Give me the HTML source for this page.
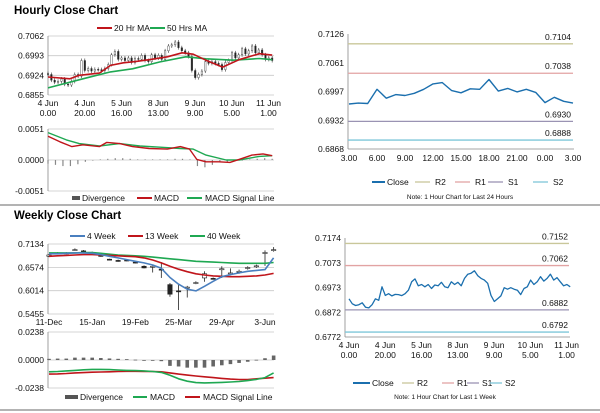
<!DOCTYPE html>
<html><head><meta charset="utf-8"><style>
html,body{margin:0;padding:0;background:#fff;}
svg{display:block;font-family:"Liberation Sans",sans-serif;}
</style></head><body>
<svg id="s" width="600" height="413" viewBox="0 0 600 413" xmlns="http://www.w3.org/2000/svg">
<text x="14" y="14" font-size="11.5" font-weight="bold">Hourly Close Chart</text>
<text x="14" y="219" font-size="11.5" font-weight="bold">Weekly Close Chart</text>
<line x1="0" y1="205" x2="600" y2="205" stroke="#9a9a9a" stroke-width="1.5"/>
<line x1="0" y1="410" x2="600" y2="410" stroke="#9a9a9a" stroke-width="1.5"/>
</svg>
<script>
// ---------- data ----------
const hourTickLabels1 = ["4 Jun","4 Jun","5 Jun","8 Jun","9 Jun","10 Jun","11 Jun"];
const hourTickLabels2 = ["0.00","20.00","16.00","13.00","9.00","5.00","1.00"];
const hourTickHours = [0,20,40,60,80,100,120];
const weekClose = [0.6927,0.6907,0.6900,0.6903,0.6911,0.6893,0.6890,0.6903,0.6927,0.6921,0.6976,0.6941,0.6948,0.6939,0.6945,0.6944,0.6940,0.6948,0.6962,0.6996,0.7008,0.6980,0.6985,0.6976,0.6985,0.6969,0.6983,0.6980,0.6994,0.6976,0.6972,0.6996,0.6985,0.6994,0.6980,0.7010,0.7027,0.7031,0.7041,0.7021,0.7010,0.7003,0.6990,0.6941,0.6916,0.6927,0.6939,0.6972,0.6966,0.6972,0.6966,0.6962,0.6944,0.6969,0.6976,0.7003,0.6985,0.6996,0.7017,0.6999,0.7010,0.7027,0.7003,0.7013,0.6996,0.6980,0.6985,0.6976];
const ma20Hours = [0,12,17,28,34,41,48,55,65,73,79,86,95,104,115,122];
const ma20Vals = [0.6918,0.6912,0.6924,0.6932,0.6959,0.6968,0.6973,0.6979,0.6989,0.7003,0.6998,0.6977,0.6953,0.6979,0.7000,0.6995];
const ma50Hours = [0,19,34,46,61,75,86,101,115,122];
const ma50Vals = [0.6880,0.6912,0.6936,0.6947,0.6971,0.6989,0.6982,0.6977,0.6983,0.6979];
const hMacdHours = [0,6.5,13,19,28,32,39,46,55,65,72,77,81,86,93,99,104,111,117,122];
const hMacdVals = [0.0039,0.0030,0.0022,0.0025,0.0022,0.0029,0.0027,0.0022,0.0019,0.0018,0.0022,0.0018,0.0001,-0.0003,-0.0003,-0.0004,0.0001,0.0008,0.0010,0.0007];
const hSigHours = [0,10,17,28,39,50,61,72,79,86,97,104,115,122];
const hSigVals = [0.0045,0.0033,0.0027,0.0023,0.0027,0.0023,0.0021,0.0019,0.0018,0.0008,0.0000,0.0000,0.0006,0.0007];
const hDivVals = [-0.0006,-0.0008,-0.0010,-0.0010,-0.0007,-0.0003,-0.0001,0.0001,0.0002,0.0003,0.0003,0.0002,0.0001,0.0001,0.0001,0.0001,0.0001,0.0002,0.0002,0.0001,-0.0010,-0.0012,-0.0008,-0.0004,-0.0003,-0.0002,-0.0001,0.0001,0.0002,0.0003,0.0002];
const r24Labels = ["3.00","6.00","9.00","12.00","15.00","18.00","21.00","0.00","3.00"];
const r24Close = [0.6969,0.6971,0.6970,0.7002,0.6982,0.6990,0.6988,0.6993,0.7002,0.7014,0.7017,0.6999,0.6994,0.7003,0.7002,0.7024,0.6998,0.7004,0.6996,0.7002,0.6995,0.6972,0.6984,0.6975,0.6971];
const r24Levels = [0.7104,0.7038,0.6930,0.6888];
const weekLevels = [0.7152,0.7062,0.6882,0.6792];
const levelNames = ["R2","R1","S1","S2"];
const wkLabels = ["11-Dec","15-Jan","19-Feb","25-Mar","29-Apr","3-Jun"];
const wkOpen = [0.684,0.691,0.691,0.699,0.697,0.693,0.686,0.677,0.674,0.675,0.670,0.660,0.658,0.653,0.616,0.601,0.608,0.619,0.632,0.631,0.652,0.643,0.647,0.655,0.660,0.692,0.698];
const wkClose = [0.687,0.692,0.692,0.700,0.696,0.692,0.685,0.676,0.673,0.674,0.669,0.656,0.660,0.652,0.593,0.600,0.610,0.621,0.642,0.630,0.654,0.644,0.648,0.657,0.661,0.693,0.700];
const wkHigh = [0.689,0.694,0.694,0.703,0.699,0.695,0.688,0.678,0.676,0.676,0.672,0.662,0.662,0.670,0.620,0.618,0.613,0.624,0.648,0.633,0.660,0.655,0.652,0.660,0.664,0.698,0.706];
const wkLow = [0.682,0.689,0.689,0.697,0.694,0.690,0.683,0.674,0.671,0.672,0.667,0.655,0.645,0.632,0.587,0.555,0.585,0.617,0.623,0.628,0.632,0.638,0.642,0.652,0.656,0.661,0.695];
const wk4 = [0.690,0.690,0.691,0.692,0.692,0.691,0.688,0.684,0.680,0.676,0.672,0.668,0.663,0.655,0.633,0.617,0.605,0.601,0.612,0.624,0.635,0.640,0.644,0.648,0.650,0.652,0.680];
const wk13 = [0.684,0.685,0.686,0.687,0.688,0.688,0.687,0.686,0.685,0.684,0.683,0.680,0.675,0.668,0.660,0.653,0.647,0.642,0.639,0.637,0.636,0.635,0.635,0.636,0.637,0.639,0.643];
const wk40 = [0.692,0.692,0.692,0.692,0.693,0.693,0.691,0.689,0.687,0.686,0.685,0.684,0.682,0.680,0.678,0.676,0.674,0.672,0.671,0.670,0.669,0.668,0.667,0.667,0.667,0.667,0.669];
const wkDiv = [0.001,0.0012,0.0012,0.002,0.002,0.002,0.0017,0.0013,0.001,0.0007,0.0003,0,-0.0003,-0.001,-0.005,-0.0055,-0.0065,-0.0065,-0.0065,-0.0055,-0.0045,-0.0035,-0.0025,-0.0015,0.0002,0.0015,0.0038];
const wkMacd = [-0.010,-0.0098,-0.0093,-0.0088,-0.0083,-0.0080,-0.0080,-0.0082,-0.0085,-0.0088,-0.0090,-0.0093,-0.0098,-0.0105,-0.0130,-0.0160,-0.0180,-0.0192,-0.0195,-0.0193,-0.0190,-0.0187,-0.0183,-0.0175,-0.0165,-0.0150,-0.0110];
const wkSig = [-0.0120,-0.0118,-0.0115,-0.0110,-0.0107,-0.0104,-0.0102,-0.0100,-0.0098,-0.0096,-0.0096,-0.0097,-0.0098,-0.0100,-0.0110,-0.0120,-0.0128,-0.0136,-0.0143,-0.0150,-0.0156,-0.0162,-0.0166,-0.0166,-0.0160,-0.0155,-0.0150];

// ---------- helpers ----------
const S = document.getElementById('s');
const NS = 'http://www.w3.org/2000/svg';
function mk(tag, name, attrs, txt){
  const el = document.createElementNS(NS, tag);
  for (const k in attrs) el.setAttribute(k, attrs[k]);
  
  
  if (txt !== undefined) el.textContent = txt;
  S.appendChild(el);
  return el;
}
function lin(d0,d1,r0,r1){ return v => r0 + (v-d0)/(d1-d0)*(r1-r0); }
function poly(name, xs, ys, color, w){
  const p = xs.map((x,i)=>x.toFixed(1)+','+ys[i].toFixed(1)).join(' ');
  return mk('polyline', name, {points:p, fill:'none', stroke:color, 'stroke-width':w||1.6, 'stroke-linejoin':'round'});
}
function txt(name,x,y,s,anchor,size){ return mk('text',name,{x:x,y:y,'font-size':size||8.5,'text-anchor':anchor||'start',fill:'#111'},s); }
function legLine(name,x1,x2,y,color,w){ mk('line',name,{x1:x1,x2:x2,y1:y,y2:y,stroke:color,'stroke-width':w||2}); }
const RED='#c0151b', GRN='#1fa852', BLUE='#4a7fbf', CLOSE='#1b6fae', GRAY='#bbb';
const LVC=['#c9c79a','#e2a3a3','#9a93b3','#7fc7d9'];

// ---------- hourly candle chart ----------
(function(){
  const hx = lin(0,123,48,274), hy = lin(0.6855,0.7062,95,36);
  [0.7062,0.6993,0.6924,0.6855].forEach(v=>{
    mk('line','hourly-gridline',{x1:48,x2:274,y1:hy(v),y2:hy(v),stroke:'#c8c8c8','stroke-width':0.8});
    txt('hourly-y-tick',44,hy(v)+3,v.toFixed(4),'end');
  });
  mk('line','hourly-y-axis',{x1:48,x2:48,y1:36,y2:95,stroke:'#888','stroke-width':0.8});
  hourTickHours.forEach((h,i)=>{
    txt('hourly-x-tick',hx(h),106,hourTickLabels1[i],'middle');
    txt('hourly-x-tick',hx(h),116,hourTickLabels2[i],'middle');
  });
  const n = weekClose.length;
  for (let i=0;i<n;i++){
    const h = i*122/(n-1), x = hx(h);
    const o = i? weekClose[i-1] : weekClose[0]+0.0003, c = weekClose[i];
    const hi = Math.max(o,c)+0.0007, lo = Math.min(o,c)-0.0007;
    mk('line','hourly-candle-wick',{x1:x,x2:x,y1:hy(hi),y2:hy(lo),stroke:'#333','stroke-width':0.6});
    mk('rect','hourly-candle-body',{x:x-0.8,y:hy(Math.max(o,c)),width:1.6,height:Math.max(0.8,Math.abs(hy(o)-hy(c))),fill:c<o?'#222':'#fff',stroke:'#333','stroke-width':0.4});
  }
  poly('ma50-line', ma50Hours.map(hx), ma50Vals.map(hy), GRN, 1.6);
  poly('ma20-line', ma20Hours.map(hx), ma20Vals.map(hy), RED, 1.6);
  legLine('legend-ma20-swatch',97,112,28,RED); txt('legend-ma20',114,31,'20 Hr MA');
  legLine('legend-ma50-swatch',150,165,28,GRN); txt('legend-ma50',167,31,'50 Hrs MA');

  // hourly MACD
  const my = lin(-0.0051,0.0051,191,129);
  [0.0051,0,-0.0051].forEach(v=>{
    mk('line','hourly-macd-gridline',{x1:48,x2:274,y1:my(v),y2:my(v),stroke:'#c8c8c8','stroke-width':0.8});
    txt('hourly-macd-y-tick',44,my(v)+3,v.toFixed(4),'end');
  });
  mk('line','hourly-macd-y-axis',{x1:48,x2:48,y1:129,y2:191,stroke:'#888','stroke-width':0.8});
  hDivVals.forEach((v,i)=>{
    const x = hx(i*122/(hDivVals.length-1));
    mk('rect','hourly-divergence-bar',{x:x-0.6,y:Math.min(my(0),my(v)),width:1.2,height:Math.abs(my(v)-my(0)),fill:'#888'});
  });
  poly('hourly-macd-signal-line', hSigHours.map(hx), hSigVals.map(my), GRN, 1.4);
  poly('hourly-macd-line', hMacdHours.map(hx), hMacdVals.map(my), RED, 1.4);
  mk('rect','legend-divergence-swatch',{x:72,y:196,width:8,height:4,fill:'#555'}); txt('legend-divergence',82,201,'Divergence');
  legLine('legend-macd-swatch',137,152,198,RED); txt('legend-macd',154,201,'MACD');
  legLine('legend-signal-swatch',187,202,198,GRN); txt('legend-signal',205,201,'MACD Signal Line');
})();

// ---------- right top: 24 hours ----------
(function(){
  const x = lin(0,24,349,573), y = lin(0.6868,0.7126,149,34);
  [0.7126,0.7061,0.6997,0.6932,0.6868].forEach(v=>txt('r24-y-tick',344,y(v)+3,v.toFixed(4),'end'));
  mk('line','r24-y-axis',{x1:348,x2:348,y1:34,y2:149,stroke:'#888','stroke-width':0.8});
  mk('line','r24-x-axis',{x1:348,x2:574,y1:149,y2:149,stroke:'#888','stroke-width':0.8});
  r24Labels.forEach((l,i)=>txt('r24-x-tick',x(i*3),161,l,'middle'));
  r24Levels.forEach((v,i)=>{
    mk('line','r24-level-'+levelNames[i],{x1:348,x2:573,y1:y(v),y2:y(v),stroke:LVC[i],'stroke-width':1.3});
    txt('r24-level-label',571,y(v)-4,v.toFixed(4),'end');
  });
  poly('r24-close-line', r24Close.map((v,i)=>x(i)), r24Close.map(y), CLOSE, 1.4);
  legLine('r24-legend-close-swatch',372,385,182,CLOSE); txt('r24-legend-close',387,185,'Close');
  const lx=[415,455,488,533];
  levelNames.forEach((n,i)=>{ legLine('r24-legend-'+n+'-swatch',lx[i],lx[i]+15,182,LVC[i],1.3); txt('r24-legend-'+n,lx[i]+20,185,n); });
  txt('r24-note',460,199,'Note: 1 Hour Chart for Last 24 Hours','middle',6.5);
})();

// ---------- weekly candle chart ----------
(function(){
  const x = lin(0,25,49,265), y = lin(0.5455,0.7134,314,244);
  [0.7134,0.6574,0.6014,0.5455].forEach(v=>{
    mk('line','weekly-gridline',{x1:48,x2:274,y1:y(v),y2:y(v),stroke:'#c8c8c8','stroke-width':0.8});
    txt('weekly-y-tick',44,y(v)+3,v.toFixed(4),'end');
  });
  mk('line','weekly-y-axis',{x1:48,x2:48,y1:244,y2:314,stroke:'#888','stroke-width':0.8});
  wkLabels.forEach((l,i)=>txt('weekly-x-tick',x(i*5),325,l,'middle'));
  wkClose.forEach((c,i)=>{
    const o = wkOpen[i], cx = x(i);
    mk('line','weekly-candle-wick',{x1:cx,x2:cx,y1:y(wkHigh[i]),y2:y(wkLow[i]),stroke:'#222','stroke-width':0.8});
    mk('rect','weekly-candle-body',{x:cx-2.2,y:y(Math.max(o,c)),width:4.4,height:Math.max(1,Math.abs(y(o)-y(c))),fill:c<o?'#222':'#fff',stroke:'#222','stroke-width':0.6});
  });
  const xs = wk4.map((v,i)=>x(i));
  poly('week40-line', xs, wk40.map(y), GRN, 1.6);
  poly('week13-line', xs, wk13.map(y), RED, 1.6);
  poly('week4-line', xs, wk4.map(y), BLUE, 1.6);
  legLine('legend-4week-swatch',70,85,236,BLUE); txt('legend-4week',87,239,'4 Week');
  legLine('legend-13week-swatch',128,143,236,RED); txt('legend-13week',145,239,'13 Week');
  legLine('legend-40week-swatch',190,205,236,GRN); txt('legend-40week',207,239,'40 Week');

  const my = lin(-0.0238,0.0238,388,332);
  [0.0238,0,-0.0238].forEach(v=>{
    mk('line','weekly-macd-gridline',{x1:48,x2:274,y1:my(v),y2:my(v),stroke:'#c8c8c8','stroke-width':0.8});
    txt('weekly-macd-y-tick',44,my(v)+3,v.toFixed(4),'end');
  });
  mk('line','weekly-macd-y-axis',{x1:48,x2:48,y1:332,y2:388,stroke:'#888','stroke-width':0.8});
  wkDiv.forEach((v,i)=>{
    mk('rect','weekly-divergence-bar',{x:x(i)-1.8,y:Math.min(my(0),my(v)),width:3.6,height:Math.max(0.8,Math.abs(my(v)-my(0))),fill:'#666'});
  });
  poly('weekly-macd-signal-line', xs, wkSig.map(my), RED, 1.6);
  poly('weekly-macd-line', xs, wkMacd.map(my), GRN, 1.6);
  mk('rect','weekly-legend-divergence-swatch',{x:65,y:395,width:13,height:4,fill:'#555'}); txt('weekly-legend-divergence',80,400,'Divergence');
  legLine('weekly-legend-macd-swatch',133,147,397,GRN); txt('weekly-legend-macd',150,400,'MACD');
  legLine('weekly-legend-signal-swatch',185,200,397,RED); txt('weekly-legend-signal',203,400,'MACD Signal Line');
})();

// ---------- right bottom: 1 week ----------
(function(){
  const hx = lin(0,123,349,572), y = lin(0.6772,0.7174,337,238);
  [0.7174,0.7073,0.6973,0.6872,0.6772].forEach(v=>txt('rw-y-tick',341,y(v)+3,v.toFixed(4),'end'));
  mk('line','rw-y-axis',{x1:345,x2:345,y1:238,y2:337,stroke:'#888','stroke-width':0.8});
  mk('line','rw-x-axis',{x1:345,x2:570,y1:337,y2:337,stroke:'#888','stroke-width':0.8});
  hourTickHours.forEach((h,i)=>{
    txt('rw-x-tick',hx(h),348,hourTickLabels1[i],'middle');
    txt('rw-x-tick',hx(h),358,hourTickLabels2[i],'middle');
  });
  weekLevels.forEach((v,i)=>{
    mk('line','rw-level-'+levelNames[i],{x1:345,x2:569,y1:y(v),y2:y(v),stroke:LVC[i],'stroke-width':1.3});
    txt('rw-level-label',568,y(v)-4,v.toFixed(4),'end');
  });
  const n = weekClose.length;
  poly('rw-close-line', weekClose.map((v,i)=>hx(i*122/(n-1))), weekClose.map(y), CLOSE, 1.3);
  legLine('rw-legend-close-swatch',353,370,383,CLOSE); txt('rw-legend-close',372,386,'Close');
  const lx=[402,442,467,490];
  levelNames.forEach((nm,i)=>{ legLine('rw-legend-'+nm+'-swatch',lx[i],lx[i]+12,383,LVC[i],1.3); txt('rw-legend-'+nm,lx[i]+15,386,nm); });
  txt('rw-note',445,399,'Note: 1 Hour Chart for Last 1 Week','middle',6.5);
})();
</script>
</body></html>
